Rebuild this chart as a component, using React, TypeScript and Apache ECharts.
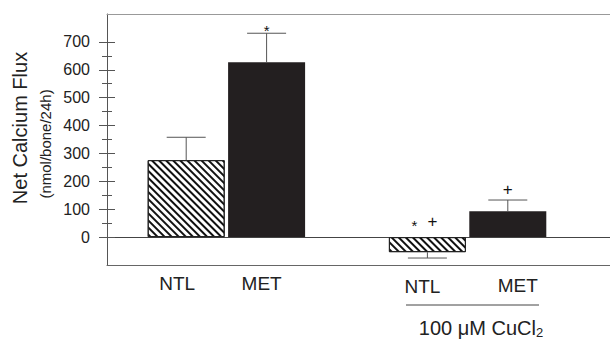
import React, { useEffect, useRef } from "react";
import * as echarts from "echarts";

const categories = ["NTL", "MET", "", "NTL", "MET"];
const means: (number | null)[] = [276, 627, null, -54, 93];
const errors: (number | null)[] = [82, 104, null, 21, 40];
const markers: string[][] = [[], ["*"], [], ["*", "+"], ["+"]];
const hatched = [true, false, false, true, false];
const majorTicks = [0, 100, 200, 300, 400, 500, 600, 700];
const minorTicks = [50, 150, 250, 350, 450, 550, 650];
const yMin = -100;
const yMax = 800;

const FONT = "'Liberation Sans', Arial, sans-serif";

// label nudges (style only)
const labelPadding: number[][] = [
  [0, 18, 0, 0],
  [0, 10, 0, 0],
  [0, 0, 0, 0],
  [3, 10, 0, 0],
  [2, 0, 0, 20],
];

export default function App() {
  const ref = useRef<HTMLDivElement>(null);
  useEffect(() => {
    const chart = echarts.init(ref.current!, null, { renderer: "svg" });
    const barData = means.map((v, i) => {
      if (v == null) return "-";
      return {
        value: v,
        itemStyle: hatched[i]
          ? {
              color: "#ffffff",
              borderColor: "#222",
              borderWidth: 1,
              decal: {
                symbol: "rect",
                symbolSize: 1,
                dashArrayX: [1, 0],
                dashArrayY: [1.8, 2.7],
                rotation: Math.PI / 4,
                color: "#111",
              },
            }
          : { color: "#231f20" },
      };
    });
    const errData: number[][] = [];
    means.forEach((v, i) => {
      if (v != null && errors[i] != null) errData.push([i, v, errors[i] as number]);
    });
    const tickAxis = (vals: number[], len: number, inside: boolean, showLine: boolean, showLabel: boolean) => ({
      type: "value",
      gridIndex: 0,
      min: yMin,
      max: yMax,
      position: "left",
      splitLine: { show: false },
      axisLine: { show: showLine, lineStyle: { color: "#555", width: 1 } },
      axisTick: {
        show: true,
        inside,
        length: len,
        customValues: vals,
        lineStyle: { color: "#555", width: 1 },
      },
      axisLabel: {
        show: showLabel,
        customValues: majorTicks,
        fontSize: 16,
        fontFamily: FONT,
        color: "#222",
        margin: 17,
      },
    });
    chart.setOption({
      animation: false,
      grid: [
        { left: 107, right: 0, top: 14, bottom: 75 },
        { left: 146, width: 402, top: 14, bottom: 75 },
      ],
      xAxis: [
        {
          type: "value", gridIndex: 0, min: 0, max: 1, position: "bottom",
          axisLine: { show: true, onZero: false, lineStyle: { color: "#666" } },
          axisTick: { show: false }, axisLabel: { show: false }, splitLine: { show: false },
        },
        {
          type: "value", gridIndex: 0, min: 0, max: 1, position: "top",
          axisLine: { show: true, onZero: false, lineStyle: { color: "#999" } },
          axisTick: { show: false }, axisLabel: { show: false }, splitLine: { show: false },
        },
        {
          type: "value", gridIndex: 0, min: 0, max: 1, position: "bottom",
          axisLine: { show: true, onZero: true, onZeroAxisIndex: 0, lineStyle: { color: "#444" } },
          axisTick: { show: false }, axisLabel: { show: false }, splitLine: { show: false },
        },
        {
          type: "category", gridIndex: 1,
          data: categories.map((c, i) => ({ value: c, textStyle: { padding: labelPadding[i] } })),
          axisLine: { show: false }, axisTick: { show: false }, splitLine: { show: false },
          axisLabel: { show: true, fontSize: 19, fontFamily: FONT, color: "#222", margin: 9, interval: 0 },
        },
      ],
      yAxis: [
        tickAxis(majorTicks, 8, false, true, true),
        tickAxis(majorTicks, 8, true, false, false),
        tickAxis(minorTicks, 5, false, false, false),
        tickAxis(minorTicks, 5, true, false, false),
        {
          type: "value", gridIndex: 1, min: yMin, max: yMax, show: false,
          splitLine: { show: false },
        },
      ],
      series: [
        {
          type: "bar",
          xAxisIndex: 3,
          yAxisIndex: 4,
          barWidth: 77,
          data: barData,
        },
        {
          type: "custom",
          xAxisIndex: 3,
          yAxisIndex: 4,
          z: 5,
          data: errData,
          renderItem: (params: any, api: any) => {
            const idx = api.value(0);
            const m = api.value(1);
            const e = api.value(2);
            const end = m >= 0 ? m + e : m - e;
            const p0 = api.coord([idx, m]);
            const p1 = api.coord([idx, end]);
            const half = 19.5;
            const stroke = { stroke: "#555", lineWidth: 1 };
            const mk = markers[idx] || [];
            const anchor = api.coord([idx, m >= 0 ? end : 0]);
            const children: any[] = [
              { type: "line", shape: { x1: p0[0], y1: p0[1], x2: p1[0], y2: p1[1] }, style: stroke },
              { type: "line", shape: { x1: p1[0] - half, y1: p1[1], x2: p1[0] + half, y2: p1[1] }, style: stroke },
            ];
            const gap = m >= 0 ? (mk.length === 1 && mk[0] === "*" ? 7 : 11) : 16;
            const spacing = 18;
            const startX = anchor[0] - 4 - ((mk.length - 1) * spacing) / 2;
            mk.forEach((g, k) => {
              const isStar = g === "*";
              const fs = isStar ? 15 : 17;
              children.push({
                type: "text",
                x: mk.length > 1 ? startX + k * spacing : anchor[0],
                y: anchor[1] - gap + (isStar ? fs * 0.27 : 0),
                style: {
                  text: g,
                  fontSize: fs,
                  fontFamily: FONT,
                  fill: "#111",
                  align: "center",
                  verticalAlign: "middle",
                },
              });
            });
            return { type: "group", children };
          },
        },
      ],
      graphic: [
        {
          type: "text",
          x: 20,
          y: 128,
          rotation: Math.PI / 2,
          style: {
            text: "Net Calcium Flux",
            fontSize: 20,
            fontFamily: FONT,
            fill: "#222",
            align: "center",
            verticalAlign: "middle",
          },
        },
        {
          type: "text",
          x: 45,
          y: 144,
          rotation: Math.PI / 2,
          style: {
            text: "(nmol/bone/24h)",
            fontSize: 15,
            fontFamily: FONT,
            fill: "#222",
            align: "center",
            verticalAlign: "middle",
          },
        },
        {
          type: "line",
          shape: { x1: 406, y1: 305, x2: 539, y2: 305 },
          style: { stroke: "#444", lineWidth: 1 },
        },
        {
          type: "text",
          x: 481,
          y: 328,
          style: {
            text: "100 μM CuCl{sub|2}",
            fontSize: 20,
            fontFamily: FONT,
            fill: "#222",
            align: "center",
            verticalAlign: "middle",
            rich: {
              sub: { fontSize: 13, fontFamily: FONT, fill: "#222", verticalAlign: "bottom", padding: [9, 0, 0, 0] },
            },
          },
        },
      ],
    });
    return () => chart.dispose();
  }, []);
  return (
    <div
      ref={ref}
      style={{ position: "absolute", left: 0, top: 0, width: 610, height: 340 }}
    />
  );
}
